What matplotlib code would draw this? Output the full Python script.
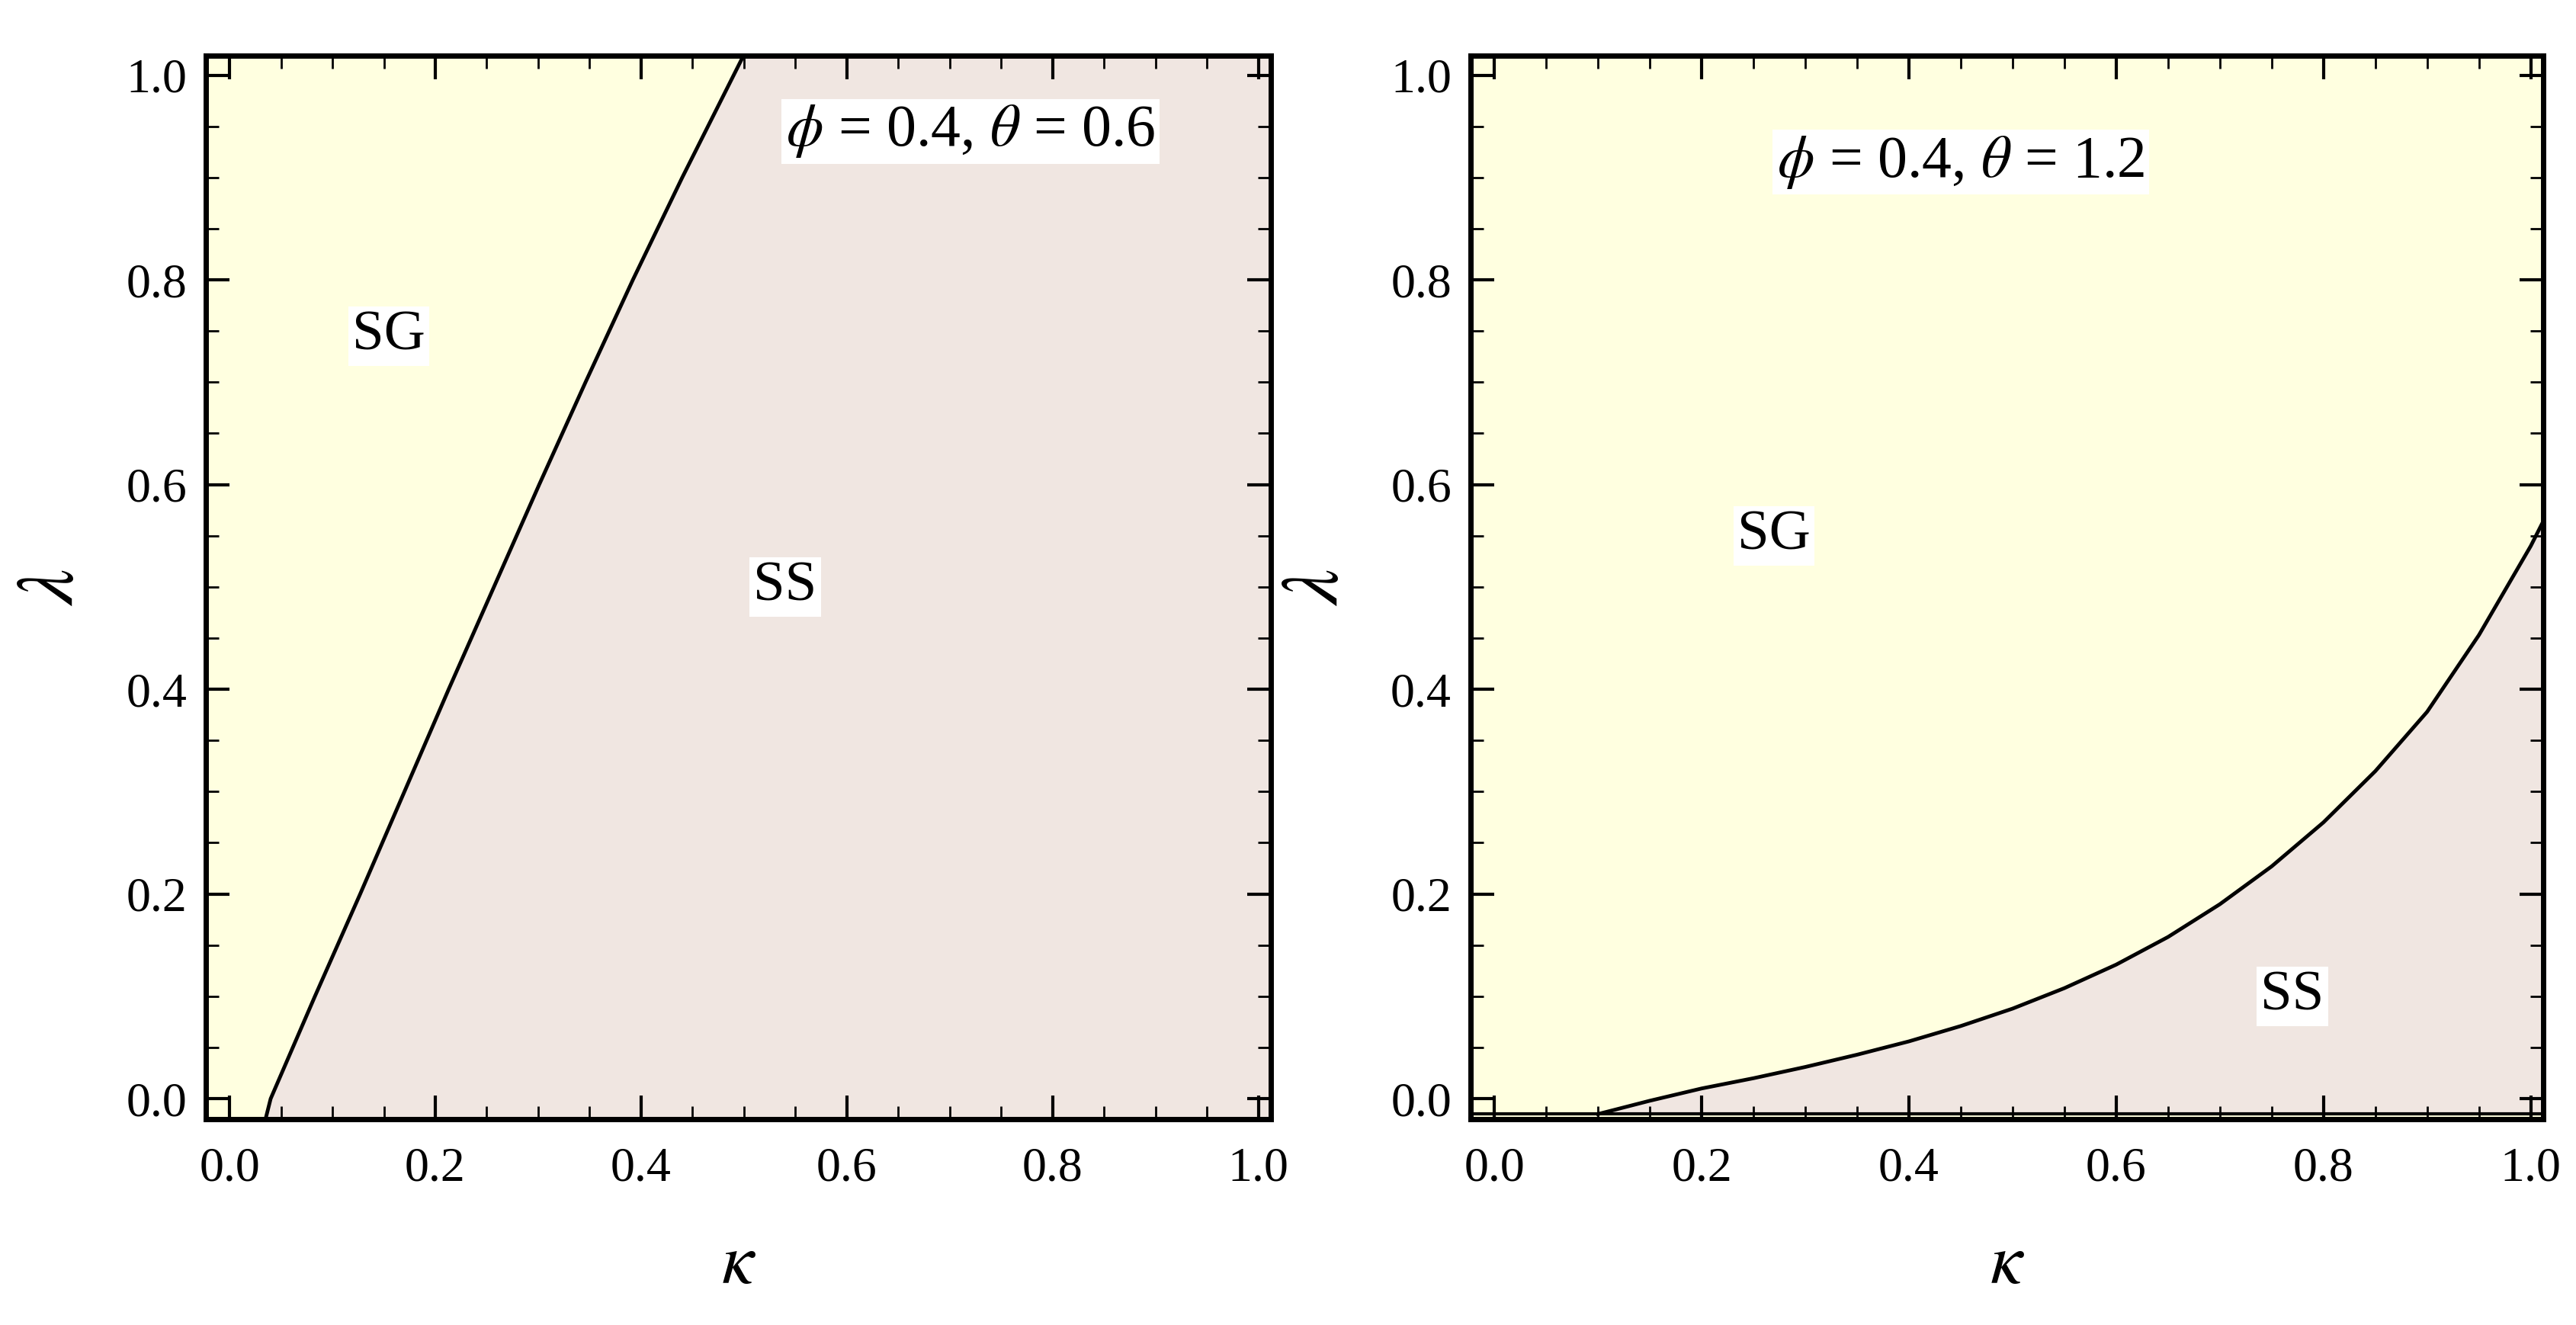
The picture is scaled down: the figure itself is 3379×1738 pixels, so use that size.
import matplotlib
matplotlib.use("Agg")
import matplotlib.pyplot as plt
import numpy as np
from matplotlib.ticker import MultipleLocator

plt.rcParams['font.family'] = ['Liberation Serif', 'DejaVu Serif']
plt.rcParams['mathtext.fontset'] = 'stix'

# boundary curves (kappa, lambda)
left_kappa = [0.035, 0.040, 0.083, 0.127, 0.170, 0.213, 0.257, 0.301, 0.346, 0.392, 0.440, 0.490, 0.500]
left_lambda = [-0.02, 0.0, 0.1, 0.2, 0.3, 0.4, 0.5, 0.6, 0.7, 0.8, 0.9, 1.0, 1.02]
right_kappa = [0.10, 0.15, 0.2, 0.25, 0.3, 0.35, 0.4, 0.45, 0.5, 0.55, 0.6, 0.65, 0.7, 0.75, 0.8, 0.85, 0.9, 0.95, 1.0, 1.02]
right_lambda = [-0.015, -0.002, 0.010, 0.020, 0.031, 0.043, 0.056, 0.071, 0.088, 0.108, 0.131, 0.158, 0.190, 0.227, 0.270, 0.320, 0.378, 0.453, 0.540, 0.580]
ticks = [0.0, 0.2, 0.4, 0.6, 0.8, 1.0]

YEL = '#FFFFE0'
PNK = '#F0E6E1'
XL = (-0.023, 1.012)
YL = (-0.020, 1.019)

fig = plt.figure(figsize=(33.79, 17.38), dpi=100)
W, H = 3379, 1738
axL = fig.add_axes([270/W, 1-1468/H, (1667-270)/W, (1468-73)/H])
axR = fig.add_axes([1929/W, 1-1468/H, (3336-1929)/W, (1468-73)/H])

def style(ax):
    ax.set_xlim(*XL); ax.set_ylim(*YL)
    ax.set_xticks(ticks); ax.set_yticks(ticks)
    ax.set_xticklabels([f"{t:.1f}" for t in ticks])
    ax.set_yticklabels([f"{t:.1f}" for t in ticks])
    ax.xaxis.set_minor_locator(MultipleLocator(0.05))
    ax.yaxis.set_minor_locator(MultipleLocator(0.05))
    ax.tick_params(which='both', direction='in', top=True, right=True, labelsize=46)
    ax.tick_params(axis='x', pad=26)
    ax.tick_params(axis='y', pad=18)
    ax.tick_params(which='major', length=22, width=3)
    ax.tick_params(which='minor', length=12, width=2)
    for s in ax.spines.values():
        s.set_linewidth(5)
    ax.set_xlabel(r'$\kappa$', fontsize=68, labelpad=40)
    ax.set_ylabel(r'$\lambda$', fontsize=76, labelpad=34, rotation=90)

box = dict(facecolor='white', edgecolor='none', pad=4)

# left panel
lk = np.array(left_kappa); ll = np.array(left_lambda)
axL.fill_between([XL[0], XL[1]], YL[0], YL[1], color=PNK, lw=0)
axL.fill_betweenx(ll, XL[0], lk, color=YEL, lw=0)
axL.plot(lk, ll, color='black', lw=3.5)
axL.text(0.155, 0.745, 'SG', fontsize=54, ha='center', va='center', bbox=box)
axL.text(0.54, 0.50, 'SS', fontsize=54, ha='center', va='center', bbox=box)
axL.text(0.72, 0.945, r'$\phi$ = 0.4, $\theta$ = 0.6', fontsize=56, ha='center', va='center', bbox=box)
style(axL)

# right panel
rk = np.array(right_kappa); rl = np.array(right_lambda)
axR.fill_between([XL[0], XL[1]], YL[0], YL[1], color=YEL, lw=0)
axR.fill_between(rk, -0.015, rl, color=PNK, lw=0)
axR.plot(rk, rl, color='black', lw=3.5)
axR.axhline(-0.015, color='black', lw=3)
axR.text(0.27, 0.55, 'SG', fontsize=54, ha='center', va='center', bbox=box)
axR.text(0.77, 0.10, 'SS', fontsize=54, ha='center', va='center', bbox=box)
axR.text(0.45, 0.915, r'$\phi$ = 0.4, $\theta$ = 1.2', fontsize=56, ha='center', va='center', bbox=box)
style(axR)

fig.savefig('out.png', dpi=100, facecolor='white')
